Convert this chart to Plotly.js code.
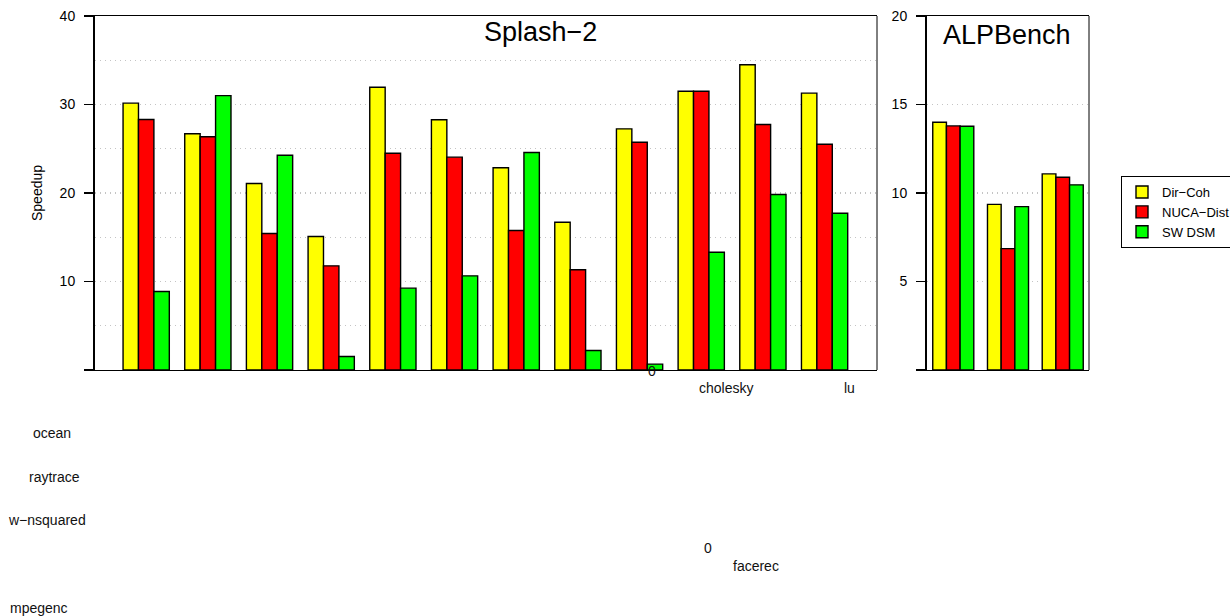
<!DOCTYPE html>
<html>
<head>
<meta charset="utf-8">
<script src="https://cdn.plot.ly/plotly-3.0.1.min.js"></script>
<style>html,body{margin:0;padding:0;background:#fff;}#chart{width:1230px;height:616px;}</style>
</head>
<body>
<div id="chart"></div>
<script>
// ---- data ----
const splashCategories = ['barnes','cholesky','fft','fmm','lu','ocean','radiosity','radix','raytrace','volrend','water-nsquared','water-spatial'];
const splashDirCoh   = [30.15, 26.7, 21.07, 15.08, 31.95, 28.27, 22.85, 16.7, 27.25, 31.5, 34.49, 31.28];
const splashNucaDist = [28.3, 26.35, 15.42, 11.77, 24.5, 24.05, 15.76, 11.32, 25.74, 31.5, 27.74, 25.51];
const splashSwDsm    = [8.87, 31.0, 24.27, 1.53, 9.25, 10.64, 24.58, 2.2, 0.66, 13.3, 19.83, 17.72];

const alpCategories = ['facerec','mpegenc','mpegdec'];
const alpDirCoh   = [14.0, 9.36, 11.08];
const alpNucaDist = [13.79, 6.86, 10.89];
const alpSwDsm    = [13.77, 9.23, 10.46];

const seriesNames = ['Dir\u2212Coh', 'NUCA\u2212Dist', 'SW DSM'];
const panelTitles = ['Splash\u22122', 'ALPBench'];
const splashTicks = [0, 10, 20, 30, 40];
const splashTickText = ['', '10', '20', '30', '40'];
const alpTicks = [0, 5, 10, 15, 20];
const alpTickText = ['', '5', '10', '15', '20'];
const strayLabels = ['0', 'cholesky', 'lu', 'ocean', 'raytrace', 'w\u2212nsquared', 'mpegenc', '0', 'facerec'];

// ---- styling / layout ----
const colors = ['#FFFF00', '#FF0000', '#00FF00'];
const FONT = 'Liberation Sans, Arial, Helvetica, sans-serif';
const W = 1230, H = 616, ML = 95, MR = 141, MT = 16, MB = 246;
const PW = W - ML - MR, PH = H - MT - MB;
const px = x => (x - ML) / PW;
const py = y => (H - MB - y) / PH;

const splashSeries = [splashDirCoh, splashNucaDist, splashSwDsm];
const alpSeries = [alpDirCoh, alpNucaDist, alpSwDsm];
const traces = [];
splashSeries.forEach((vals, i) => {
  traces.push({type: 'bar', x: splashCategories, y: vals, name: seriesNames[i], xaxis: 'x', yaxis: 'y',
    marker: {color: colors[i], line: {color: '#000', width: 1.4}}, legendgroup: 's' + i, hoverinfo: 'y'});
});
alpSeries.forEach((vals, i) => {
  traces.push({type: 'bar', x: alpCategories, y: vals, name: seriesNames[i], xaxis: 'x2', yaxis: 'y2', showlegend: false,
    marker: {color: colors[i], line: {color: '#000', width: 1.4}}, legendgroup: 's' + i, hoverinfo: 'y'});
});

const strayPos = [[652, 371], [726, 388], [849, 388], [52, 433], [54, 477], [47, 520], [38.5, 608], [708, 548], [755.5, 566]];
const annotations = strayLabels.map((t, i) => ({
  text: t, xref: 'paper', yref: 'paper', x: px(strayPos[i][0]), y: py(strayPos[i][1]),
  xanchor: 'center', yanchor: 'middle', showarrow: false, font: {family: FONT, size: 14, color: '#111'}
}));
annotations.push({text: panelTitles[0], xref: 'paper', yref: 'paper', x: px(540), y: py(32), xanchor: 'center', yanchor: 'middle',
  showarrow: false, font: {family: FONT, size: 27, color: '#000'}});
annotations.push({text: panelTitles[1], xref: 'paper', yref: 'paper', x: px(1007), y: py(35), xanchor: 'center', yanchor: 'middle',
  showarrow: false, font: {family: FONT, size: 27, color: '#000'}});

const GRID = '#c4c4c4';
const yCommon = {
  showline: true, linecolor: '#000', linewidth: 2, ticks: 'outside', ticklen: 9, tickwidth: 1.3, tickcolor: '#000',
  showgrid: true, gridcolor: GRID, griddash: '1px,4px', gridwidth: 1.3, zeroline: false,
  minor: {dtick: 5, showgrid: true, gridcolor: GRID, griddash: '1px,4px', gridwidth: 1.3},
  tickfont: {family: FONT, size: 14, color: '#000'}, ticklabelstandoff: 6, fixedrange: true
};
const xCommon = {showline: true, mirror: true, linecolor: '#000', linewidth: 1, showticklabels: false, ticks: '',
  showgrid: false, zeroline: false, fixedrange: true};

const layout = {
  width: W, height: H,
  margin: {l: ML, r: MR, t: MT, b: MB, autoexpand: false},
  paper_bgcolor: '#fff', plot_bgcolor: '#fff',
  barmode: 'group', bargap: 0.25, bargroupgap: 0,
  showlegend: true,
  legend: {x: px(1121), y: py(176), xanchor: 'left', yanchor: 'top', bordercolor: '#000', borderwidth: 1,
    font: {family: FONT, size: 13, color: '#000'}, bgcolor: '#fff', tracegroupgap: 0},
  xaxis: Object.assign({}, xCommon, {domain: [0, px(877)], range: [-0.83, 11.85], type: 'category', anchor: 'y'}),
  yaxis: Object.assign({}, yCommon, {range: [0, 40], tickvals: splashTicks, ticktext: splashTickText, anchor: 'x',
    title: {text: 'Speedup', font: {family: FONT, size: 14, color: '#000'}, standoff: 14}}),
  xaxis2: Object.assign({}, xCommon, {domain: [px(927), 1], range: [-0.48, 2.48], type: 'category', anchor: 'y2'}),
  yaxis2: Object.assign({}, yCommon, {range: [0, 20], tickvals: alpTicks, ticktext: alpTickText, anchor: 'x2'}),
  shapes: [
    {type: 'line', xref: 'x domain', yref: 'y domain', x0: 1, x1: 1, y0: 0, y1: 1, line: {color: '#000', width: 1}},
    {type: 'line', xref: 'x2 domain', yref: 'y2 domain', x0: 1, x1: 1, y0: 0, y1: 1, line: {color: '#000', width: 1}}
  ],
  annotations: annotations,
  font: {family: FONT}
};

Plotly.newPlot('chart', traces, layout, {displayModeBar: false, staticPlot: true});
</script>
</body>
</html>
